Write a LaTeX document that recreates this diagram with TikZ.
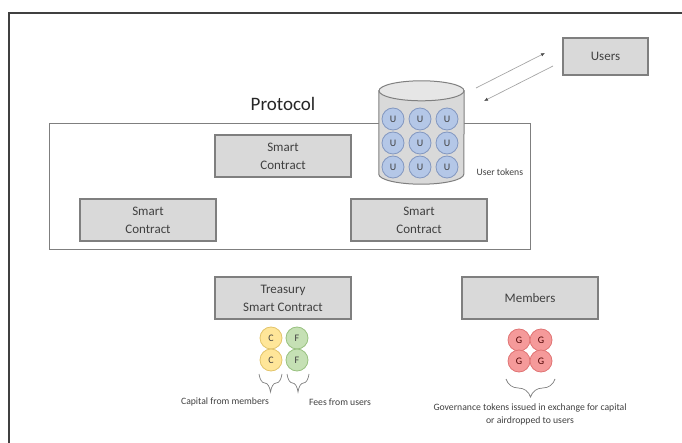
\documentclass[tikz,border=0pt]{standalone}
\usepackage{fontspec}
\setmainfont{Carlito}
\usetikzlibrary{decorations.pathreplacing, arrows.meta}

\definecolor{txtgray}{HTML}{404040}
\definecolor{boxfill}{HTML}{D9D9D9}
\definecolor{boxline}{HTML}{7F7F7F}
\definecolor{cyltop}{HTML}{E6E6E6}
\definecolor{ufill}{HTML}{B4C7E7}
\definecolor{uline}{HTML}{8297C0}
\definecolor{cfill}{HTML}{FFE699}
\definecolor{cline}{HTML}{E2C46A}
\definecolor{ffill}{HTML}{C5E0B4}
\definecolor{fline}{HTML}{98C17F}
\definecolor{gfill}{HTML}{F59A9A}
\definecolor{gline}{HTML}{E07474}
\definecolor{arrowgray}{HTML}{A6A6A6}

\begin{document}
\begin{tikzpicture}[x=1pt,y=-1pt,
       every node/.style={text=txtgray},
       contract/.style={draw=boxline,fill=boxfill,line width=1.1pt,
         minimum width=136pt,minimum height=42pt,align=center,
         font=\fontsize{13}{18}\selectfont},
       coin/.style={circle,line width=0.8pt,minimum size=22pt,inner sep=0pt,
         font=\fontsize{10}{11}\selectfont},
       ucoin/.style={coin,draw=uline,fill=ufill},
       ccoin/.style={coin,draw=cline,fill=cfill},
       fcoin/.style={coin,draw=fline,fill=ffill},
       gcoin/.style={coin,draw=gline,fill=gfill,text=black!70!red},
       caption/.style={font=\fontsize{9.7}{13}\selectfont,align=center},
       tokbrace/.style={decorate,decoration={brace,mirror,amplitude=18pt},
         draw=boxline,line width=0.7pt},
       flow/.style={draw=arrowgray,line width=0.7pt,
         -{Latex[length=4pt,width=3.5pt,color=black!70]}}]
    \useasboundingbox (0,0) rectangle (682,443);
    % page frame
    \draw[txtgray,line width=1.2pt] (682,13) -- (9,13) -- (9,443);

    % protocol and its contracts
    \node[draw=boxline,line width=1pt,minimum width=481pt,minimum height=126pt]
      (protocol) at (289.5,187) {};
    \node[font=\fontsize{19}{21}\selectfont,text=black!85] (protolabel)
      at (283,104) {Protocol};
    \node[contract] (sctop) at (283,156) {Smart\\Contract};
    \node[contract] (scleft) at (148,220) {Smart\\Contract};
    \node[contract] (scright) at (419,220) {Smart\\Contract};

    % user token pool
    \node[minimum width=85pt,minimum height=103pt,inner sep=0pt] (pool)
      at (421.5,132.5) {};
    \draw[draw=boxline,fill=boxfill,line width=1pt]
      ([yshift=-10pt]pool.north west) -- ([yshift=10pt]pool.south west)
      arc[start angle=180,end angle=0,x radius=42.5,y radius=10]
      -- ([yshift=-10pt]pool.north east) -- cycle;
    \draw[draw=boxline,fill=cyltop,line width=1pt]
      (pool.north) ++(0,10) ellipse [x radius=42.5,y radius=10];
    \foreach \r/\yy in {1/119,2/143,3/167}
      \foreach \c/\xx in {1/393,2/420,3/447}
        \node[ucoin] (u\r\c) at (\xx,\yy) {U};
    \node[caption,anchor=west] (utokens) at (473,172) {User tokens};

    \node[contract,minimum width=85pt,minimum height=37pt] (users)
      at (605.5,56.5) {Users};
    \coordinate (out1) at (476,88);
    \coordinate (in1) at (545,53);
    \coordinate (out2) at (553,66);
    \coordinate (in2) at (484,101);
    \draw[flow] (out1) -- (in1);
    \draw[flow] (out2) -- (in2);

    % treasury
    \node[contract] (treasury) at (283,298) {Treasury\\Smart Contract};
    \node[ccoin] (c1) at (271,338) {C};
    \node[ccoin] (c2) at (271,360) {C};
    \node[fcoin] (f1) at (297,338) {F};
    \node[fcoin] (f2) at (297,360) {F};
    \draw[tokbrace] (259,374) -- (282,374);
    \draw[tokbrace] (287,374) -- (309,374);
    \node[caption] (capital) at (225,402) {Capital from members};
    \node[caption] (fees) at (340,402) {Fees from users};

    % members
    \node[contract] (members) at (530,298) {Members};
    \node[gcoin] (g1) at (519,340) {G};
    \node[gcoin] (g2) at (541,340) {G};
    \node[gcoin] (g3) at (519,361) {G};
    \node[gcoin] (g4) at (541,361) {G};
    \draw[tokbrace] (506,379) -- (555,379);
    \node[caption] (governance) at (530,414)
      {Governance tokens issued in exchange for capital\\or airdropped to users};
\end{tikzpicture}
\end{document}
